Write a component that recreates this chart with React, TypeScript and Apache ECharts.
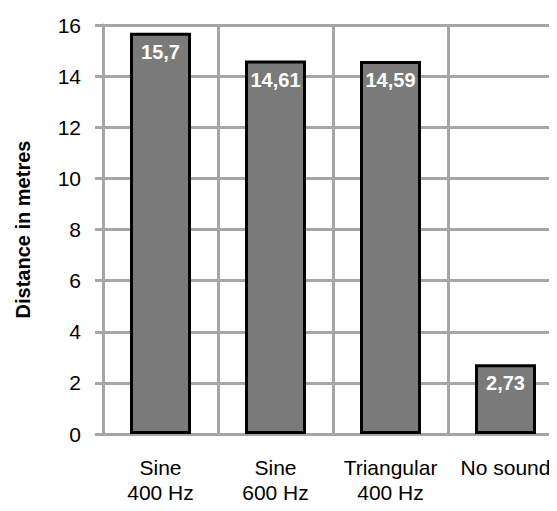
import React, { useEffect, useRef } from "react";
import * as echarts from "echarts";

const categories = ["Sine\n400 Hz", "Sine\n600 Hz", "Triangular\n400 Hz", "No sound"];
const distances = [15.7, 14.61, 14.59, 2.73];
const yAxisTitle = "Distance in metres";

export default function App() {
  const ref = useRef<HTMLDivElement>(null);
  useEffect(() => {
    if (!ref.current) return;
    const chart = echarts.init(ref.current, null, { renderer: "svg" });
    const grey = "#a6a6a6";
    const font = "Liberation Sans, Arial, sans-serif";
    chart.setOption({
      animation: false,
      grid: {
        left: 95,
        top: 17,
        bottom: 77,
        right: -6,
        containLabel: false,
        outerBoundsMode: "none",
      },
      xAxis: {
        type: "category",
        data: categories,
        axisLine: { show: true, lineStyle: { color: grey, width: 3 } },
        axisTick: { show: false },
        splitLine: { show: true, lineStyle: { color: grey, width: 3 } },
        axisLabel: {
          color: "#000",
          fontFamily: font,
          fontSize: 21,
          lineHeight: 25,
          margin: 21,
          interval: 0,
        },
      },
      yAxis: {
        type: "value",
        min: 0,
        max: 16,
        interval: 2,
        name: yAxisTitle,
        nameLocation: "middle",
        nameGap: 70,
        nameTextStyle: {
          color: "#000",
          fontFamily: font,
          fontSize: 20,
          fontWeight: "bold",
        },
        axisLine: { show: true, lineStyle: { color: grey, width: 3 } },
        axisTick: { show: true, length: 8, lineStyle: { color: grey, width: 3 } },
        splitLine: { show: true, lineStyle: { color: grey, width: 3 } },
        axisLabel: {
          color: "#000",
          fontFamily: font,
          fontSize: 21,
          margin: 22,
        },
      },
      series: [
        {
          type: "bar",
          data: distances,
          barWidth: 61,
          itemStyle: { color: "#7a7a7a", borderColor: "#000", borderWidth: 3 },
          label: {
            show: true,
            position: "insideTop",
            distance: 9,
            color: "#fff",
            fontFamily: font,
            fontSize: 20,
            fontWeight: "bold",
            formatter: (p: any) => String(p.value).replace(".", ","),
          },
        },
      ],
    });
    return () => chart.dispose();
  }, []);
  return <div ref={ref} style={{ width: 549, height: 503, marginBottom: -8 }} />;
}
